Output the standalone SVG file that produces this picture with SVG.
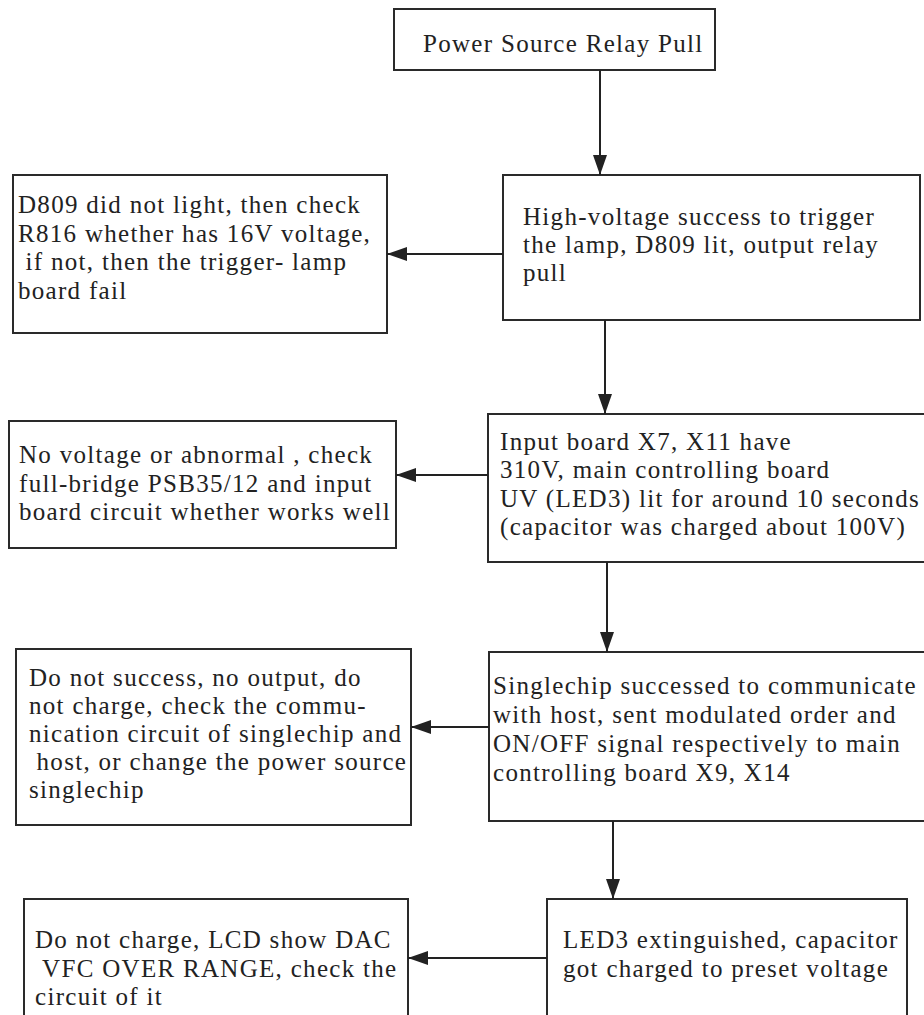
<svg xmlns="http://www.w3.org/2000/svg" width="924" height="1015" viewBox="0 0 924 1015">
<style>
.box{fill:#fff;stroke:#2a2a2a;stroke-width:2}
.t{font-family:"Liberation Serif","Times New Roman",serif;font-size:25px;letter-spacing:1.3px;fill:#222}
.c{stroke:#222;stroke-width:2;fill:none;marker-end:url(#ah)}
</style>
<defs>
<marker id="ah" markerUnits="userSpaceOnUse" markerWidth="20" markerHeight="14" refX="20" refY="7" orient="auto">
<path d="M0,0 L20,7 L0,14 z" fill="#222"/>
</marker>
</defs>
<rect width="924" height="1015" fill="#fff"/>
<g id="n1">
<rect class="box" x="394" y="9" width="321" height="61"/>
<text class="t" x="423" y="52">Power Source Relay Pull</text>
</g>
<g id="n2">
<rect class="box" x="503" y="175" width="417" height="145"/>
<text class="t" x="523" y="225">High-voltage success to trigger</text>
<text class="t" x="523" y="253">the lamp, D809 lit, output relay</text>
<text class="t" x="523" y="281">pull</text>
</g>
<g id="n3">
<rect class="box" x="13" y="175" width="374" height="158"/>
<text class="t" x="18" y="213">D809 did not light, then check</text>
<text class="t" x="18" y="242">R816 whether has 16V voltage,</text>
<text class="t" x="18" y="270" xml:space="preserve"> if not, then the trigger- lamp</text>
<text class="t" x="18" y="299">board fail</text>
</g>
<g id="n4">
<rect class="box" x="488" y="414" width="445" height="148"/>
<text class="t" x="500" y="450">Input board X7, X11 have</text>
<text class="t" x="500" y="478">310V, main controlling board</text>
<text class="t" x="500" y="507">UV (LED3) lit for around 10 seconds</text>
<text class="t" x="500" y="535">(capacitor was charged about 100V)</text>
</g>
<g id="n5">
<rect class="box" x="9" y="421" width="387" height="127"/>
<text class="t" x="19" y="463">No voltage or abnormal , check</text>
<text class="t" x="19" y="492">full-bridge PSB35/12 and input</text>
<text class="t" x="19" y="520">board circuit whether works well</text>
</g>
<g id="n6">
<rect class="box" x="489" y="652" width="444" height="169"/>
<text class="t" x="493" y="694">Singlechip successed to communicate</text>
<text class="t" x="493" y="723">with host, sent modulated order and</text>
<text class="t" x="493" y="752">ON/OFF signal respectively to main</text>
<text class="t" x="493" y="781">controlling board X9, X14</text>
</g>
<g id="n7">
<rect class="box" x="16" y="649" width="395" height="176"/>
<text class="t" x="29" y="686">Do not success, no output, do</text>
<text class="t" x="29" y="714">not charge, check the commu-</text>
<text class="t" x="29" y="742">nication circuit of singlechip and</text>
<text class="t" x="29" y="770" xml:space="preserve"> host, or change the power source</text>
<text class="t" x="29" y="798">singlechip</text>
</g>
<g id="n8">
<rect class="box" x="547" y="899" width="360" height="130"/>
<text class="t" x="563" y="948">LED3 extinguished, capacitor</text>
<text class="t" x="563" y="977">got charged to preset voltage</text>
</g>
<g id="n9">
<rect class="box" x="24" y="899" width="384" height="130"/>
<text class="t" x="35" y="948">Do not charge, LCD show DAC</text>
<text class="t" x="35" y="977" xml:space="preserve"> VFC OVER RANGE, check the</text>
<text class="t" x="35" y="1005">circuit of it</text>
</g>
<g id="connectors">
<line class="c" x1="600" y1="70" x2="600" y2="175"/>
<line class="c" x1="503" y1="254" x2="387" y2="254"/>
<line class="c" x1="605" y1="320" x2="605" y2="414"/>
<line class="c" x1="488" y1="475" x2="396" y2="475"/>
<line class="c" x1="607" y1="562" x2="607" y2="652"/>
<line class="c" x1="489" y1="727" x2="411" y2="727"/>
<line class="c" x1="613" y1="821" x2="613" y2="899"/>
<line class="c" x1="547" y1="958" x2="408" y2="958"/>
</g>
</svg>
